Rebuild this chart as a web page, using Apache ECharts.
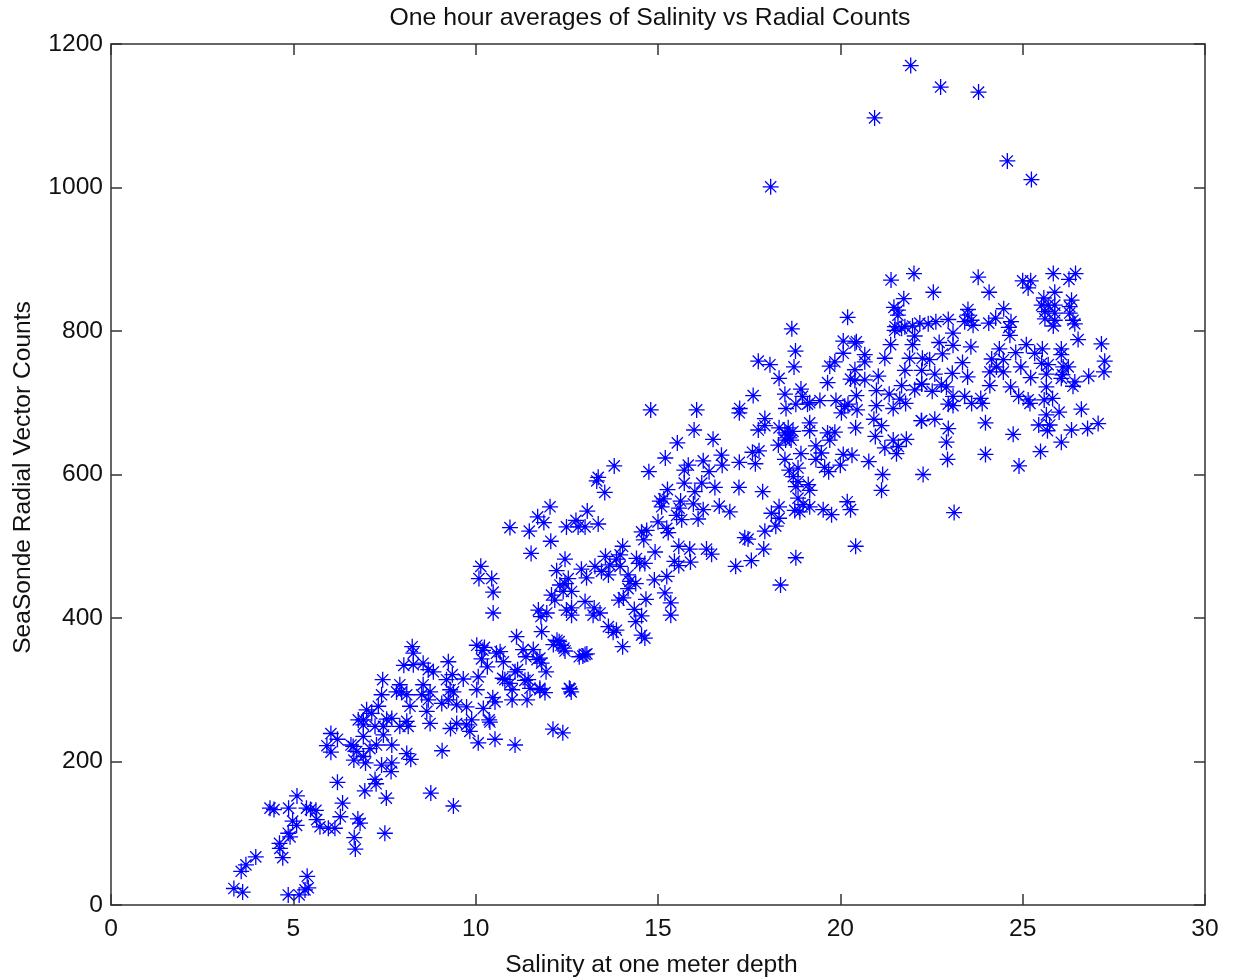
<!DOCTYPE html>
<html>
<head>
<meta charset="utf-8">
<title>Salinity vs Radial Counts</title>
<script src="https://cdn.jsdelivr.net/npm/echarts@6/dist/echarts.min.js"></script>
<style>
html, body { margin: 0; padding: 0; background: #fff; }
#main { width: 1235px; height: 980px; }
</style>
</head>
<body>
<div id="main"></div>
<script>
// values: [salinity, radial vector counts]
var lowSalinity = [
[3.37,23],[3.61,18],[3.57,47],[3.70,56],[3.97,67],[4.36,135],[4.47,133],[4.87,135],[5.10,152],[5.36,135],
[5.47,133],[5.62,132],[6.35,142],[6.21,171],[6.29,123],[4.98,117],[5.09,111],[4.86,100],[4.91,95],[4.62,86],
[4.63,79],[4.71,66],[5.64,119],[5.73,109],[5.96,107],[6.14,107],[6.77,120],[6.83,114],[6.67,94],[6.70,78],
[7.51,100],[6.96,159],[7.55,149],[7.24,175],[7.27,169],[8.77,156],[9.39,138],[9.08,215],[4.86,14],[5.16,14],
[5.32,21],[5.41,24],[5.38,40],[6.03,239],[6.21,231],[5.92,222],[6.03,213],[6.58,223],[6.64,221],[6.74,214],
[6.66,202],[6.92,207],[6.98,198],[7.10,218],[7.28,223],[6.92,235],[7.42,195],[7.70,223],[7.70,198],[7.68,186],
[8.11,211],[8.22,203],[7.45,314],[7.42,293],[7.33,277],[7.92,307],[7.83,297],[7.97,297],[8.11,293],[8.20,277],
[8.26,360],[8.29,351],[8.03,334],[8.29,335],[8.56,337],[8.84,325],[8.70,328],[9.25,339],[9.36,321],[9.66,315],
[10.03,362],[10.24,359],[10.16,343],[10.32,332],[10.57,351],[10.07,318],[10.03,300],[8.56,307],[8.52,293],[8.75,297],
[8.70,286],[8.66,270],[8.75,253],[9.07,281],[9.20,314],[9.30,300],[9.39,297],[9.25,286],[9.48,279],[9.75,276],
[10.21,274],[10.53,283],[9.89,258],[9.75,251],[9.84,242],[9.48,253],[9.31,246],[10.07,226],[10.53,231],[10.37,258],
[8.15,249],[8.11,256],[7.92,249],[7.70,260],[7.56,259],[7.47,249],[7.47,237],[7.24,249],[7.01,272],[6.92,258],
[6.78,258],[7.15,267],[6.92,251]
];

var midSalinity = [
[14.80,690],[16.06,690],[15.99,662],[15.53,644],[16.51,649],[15.20,623],[16.74,627],[16.76,613],[16.24,619],[15.83,613],
[15.72,606],[16.40,604],[15.72,588],[14.75,604],[13.80,612],[13.36,596],[13.32,591],[13.54,575],[15.26,579],[15.05,563],
[15.16,566],[15.10,555],[15.62,563],[15.97,559],[16.01,576],[16.2,588],[16.56,582],[16.68,556],[16.24,551],[15.58,553],
[15.51,543],[15.65,537],[16.1,538],[15.0,534],[15.24,525],[15.28,519],[14.55,520],[14.69,522],[14.61,509],[12.04,555],
[11.7,541],[11.87,533],[10.94,526],[11.47,521],[12.06,507],[11.52,490],[13.06,549],[12.49,527],[12.75,536],[12.81,527],
[13.0,527],[13.36,531],[12.45,482],[12.22,466],[10.14,472],[10.09,455],[10.44,455],[10.48,436],[10.48,407],[12.90,468],
[13.04,456],[13.27,472],[13.45,465],[13.56,486],[13.64,460],[13.86,482],[14.03,500],[13.96,488],[13.68,474],[13.96,472],
[14.41,483],[14.5,476],[14.64,476],[14.92,492],[14.18,460],[14.23,451],[14.39,448],[14.18,441],[14.90,453],[15.24,458],
[15.45,479],[15.57,473],[15.57,500],[15.87,496],[15.89,478],[16.33,496],[16.47,489],[15.19,435],[15.35,421],[15.35,404],
[14.67,426],[14.05,428],[13.93,425],[14.35,412],[14.55,403],[14.39,395],[13.64,388],[13.77,380],[13.86,383],[14.55,376],
[14.64,372],[14.03,360],[13.0,423],[13.25,414],[13.41,407],[13.22,404],[12.63,414],[12.63,404],[12.49,411],[11.72,411],
[11.79,402],[11.95,407],[12.17,425],[12.08,432],[12.40,437],[12.63,437],[12.45,448],[12.54,455],[12.31,446],[11.81,381],
[11.12,374],[10.76,339],[11.58,356],[11.38,346],[11.76,344],[11.81,337],[12.13,363],[12.29,367],[12.42,358],[12.84,346],
[13.0,349],[11.15,328],[11.93,325],[10.74,316],[10.94,309],[11.44,314],[12.57,302],[11.76,302],[12.12,245],[12.39,240],
[12.59,301],[12.62,297],[11.08,223],[12.23,369],[12.34,362],[12.45,354],[12.94,347],[13.05,350],[11.35,313],[11.49,302],
[11.9,296],[11.76,300],[11.0,300],[11.0,286],[10.47,289],[11.41,286],[10.2,355],[10.67,353],[11.3,356],[11.08,325],
[11.68,342],[10.8,314],[10.39,255]
];

var highSalinity = [
[20.2,819],[18.67,803],[18.77,772],[18.73,750],[17.75,758],[18.07,753],[18.32,734],[17.61,710],[17.24,692],[17.23,686],
[18.92,719],[18.48,712],[18.96,709],[18.51,692],[18.78,698],[19.1,698],[19.16,700],[19.44,703],[19.88,703],[20.08,786],
[20.44,785],[20.4,783],[20.08,769],[20.67,767],[20.67,757],[21.22,762],[21.38,781],[21.49,801],[21.68,804],[21.98,807],
[22.04,793],[21.98,781],[19.85,757],[19.71,751],[19.65,728],[20.4,746],[20.28,733],[20.4,731],[20.67,732],[21.04,737],
[21.77,745],[21.9,762],[22.25,762],[22.23,745],[22.23,726],[21.68,724],[21.34,712],[20.99,717],[20.99,696],[21.45,692],
[21.63,705],[21.79,699],[22.04,718],[20.44,710],[20.12,695],[20.21,698],[20.03,686],[20.46,690],[20.92,677],[21.13,668],
[22.22,675],[19.16,672],[19.16,661],[17.93,678],[17.93,668],[17.75,662],[18.32,665],[18.57,665],[18.6,651],[18.48,658],
[18.55,655],[18.65,648],[18.5,648],[18.7,660],
[18.3,641],[19.65,658],[19.85,659],[19.71,648],[20.42,665],[20.96,653],[21.22,637],[21.45,648],[21.81,649],[21.59,639],
[21.54,629],[19.33,640],[18.92,629],[19.48,630],[19.33,621],[20.08,628],[20.32,627],[20.78,618],[18.48,621],[17.59,631],
[17.77,633],[17.23,617],[17.67,615],[19.68,604],[19.57,610],[20.0,613],[21.16,600],[21.13,578],[18.6,606],[18.84,609],
[18.71,597],[18.84,590],[19.12,586],[18.78,583],[19.16,578],[17.22,582],[17.87,576],[18.84,567],[20.19,562],[20.28,551],
[19.16,555],[18.98,558],[18.75,550],[18.89,548],[19.53,551],[19.76,544],[18.32,555],[18.11,546],[18.32,539],[18.23,528],
[17.93,521],[17.38,512],[17.47,510],[17.9,496],[17.56,480],[17.13,472],[18.78,484],[20.42,500],[18.36,446],[16.97,548],
[23.78,875],[22.55,854],[24.08,854],[25.0,870],[25.22,870],[25.15,860],[25.84,880],[26.27,872],[26.45,880],[25.58,846],
[25.88,854],[26.34,843],[25.52,836],[25.61,827],[25.7,836],[25.88,836],[25.88,825],[26.29,834],[26.29,825],[25.61,817],
[25.88,815],[25.84,807],[26.38,815],[26.43,810],[26.52,788],[27.16,782],[27.25,758],[27.23,743],[26.81,737],[26.43,729],
[26.38,723],[23.5,830],[23.49,822],[23.6,815],[23.64,808],[23.41,813],[22.96,816],[22.62,813],[22.41,810],[22.18,811],
[24.07,811],[24.26,818],[24.48,831],[24.68,813],[24.62,805],[24.65,794],[23.09,797],[22.71,784],[23.09,780],[23.58,778],
[22.8,768],[23.35,756],[22.45,760],[22.59,740],[23.07,741],[23.49,736],[24.36,775],[24.81,770],[25.1,781],[25.33,769],
[25.54,775],[26.06,775],[26.06,767],[24.15,761],[24.47,760],[24.28,750],[24.1,743],[24.47,743],[24.95,750],[25.52,755],
[25.7,753],[25.65,740],[26.25,750],[26.11,750],[26.09,739],[26.06,734],[25.22,735],[24.1,724],[24.67,722],[25.65,722],
[24.89,709],[25.15,704],[25.2,699],[25.59,704],[25.82,706],[22.77,725],[22.91,722],[22.52,716],[22.23,726],[23.09,709],
[23.41,709],[23.85,706],[22.96,698],[23.09,696],[23.6,699],[23.89,699],[26.0,687],[26.61,691],[25.65,683],[25.44,669],
[25.74,669],[25.68,661],[26.34,662],[26.78,664],[27.07,671],[26.06,645],[25.49,632],[24.9,612],[24.74,656],[23.98,672],
[23.98,628],[22.96,664],[22.91,645],[22.94,621],[22.23,675],[22.59,677],[22.27,600],[23.12,547],[21.39,871],[22.02,880],
[21.74,845],[21.58,829],[21.47,833],[21.58,822],[21.5,806],[21.77,806]
];

var outliers = [
[21.93,1170],[22.75,1140],[23.79,1133],[20.94,1097],[18.09,1001],[24.58,1037],[25.24,1011]
];

var xRange = [0, 30];
var yRange = [0, 1200];
var xStep = 5;
var yStep = 200;

var titleText = 'One hour averages of Salinity vs Radial Counts';
var xName = 'Salinity at one meter depth';
var yName = 'SeaSonde Radial Vector Counts';

salinityScatter()
function salinityScatter(){

    var myChart = echarts.init(document.getElementById('main'), null, {renderer: 'canvas'});
    var fontName = '"Liberation Sans", Arial, sans-serif';
    var textColor = '#111111';
    var lineColor = '#333333';
    var star = 'path://M0 -10L0 10M-10 0L10 0M-7 -7L7 7M-7 7L7 -7';

    // four sided box with inward ticks, the top and right axes only carry ticks
    function makeAxis(type, range, step, position, name, showLabel){
        return {
            type: 'value',
            min: range[0],
            max: range[1],
            interval: step,
            position: position,
            name: name,
            nameLocation: 'middle',
            nameGap: type == 'x' ? 48 : 75,
            nameTextStyle: {
                fontFamily: fontName,
                fontSize: 24.6,
                color: textColor,
                // labels sit a little off the axis centre in the reference
                padding: type == 'x' ? [0, 13, 0, 0] : [0, 6, 0, 0]
            },
            axisLine: {show: true, onZero: false, lineStyle: {color: lineColor, width: 1.5}},
            axisTick: {show: true, inside: true, length: 11, lineStyle: {color: lineColor, width: 1.5}},
            axisLabel: {
                show: showLabel,
                margin: type == 'x' ? 12 : 8,
                fontFamily: fontName,
                fontSize: 24.6,
                color: textColor,
                formatter: function (v) { return String(v); }
            },
            splitLine: {show: false}
        };
    }

    var option = {
        backgroundColor: '#ffffff',
        animation: false,
        title: {
            text: titleText,
            left: 645,
            top: 1,
            textAlign: 'center',
            textStyle: {fontFamily: fontName, fontSize: 24.8, fontWeight: 'normal', color: textColor}
        },
        grid: {left: 111, top: 44, width: 1094, height: 861, outerBoundsMode: 'none'},
        xAxis: [
            makeAxis('x', xRange, xStep, 'bottom', xName, true),
            makeAxis('x', xRange, xStep, 'top', '', false)
        ],
        yAxis: [
            makeAxis('y', yRange, yStep, 'left', yName, true),
            makeAxis('y', yRange, yStep, 'right', '', false)
        ],
        series: [
            {
                type: 'scatter',
                symbol: star,
                symbolSize: 16,
                progressive: 0,
                itemStyle: {color: 'transparent', borderColor: '#0000ff', borderWidth: 1.3, opacity: 1},
                data: lowSalinity.concat(midSalinity, highSalinity, outliers)
            }
        ]
    };

    myChart.setOption(option);

}
</script>
</body>
</html>
